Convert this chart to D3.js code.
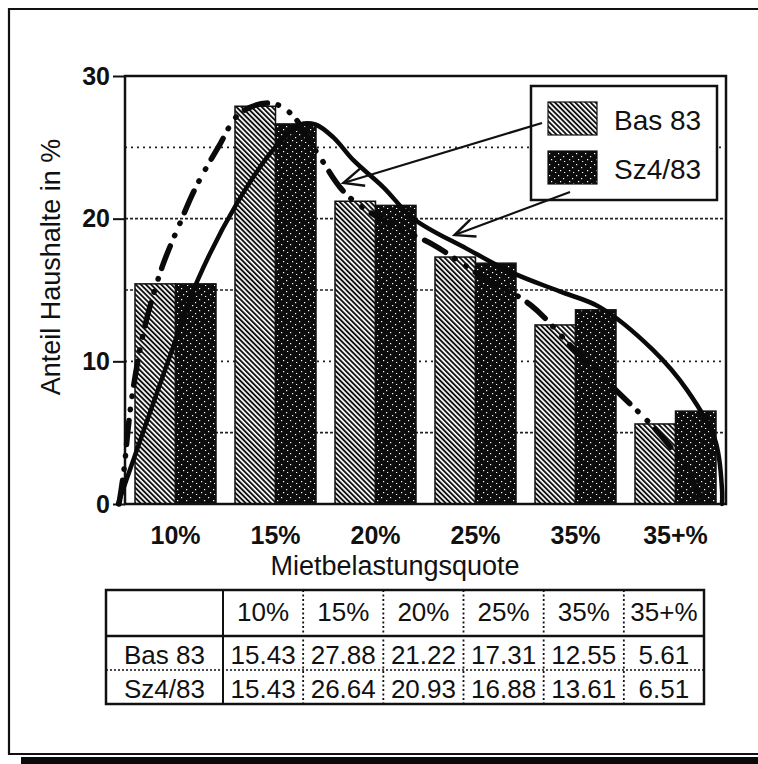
<!DOCTYPE html>
<html>
<head>
<meta charset="utf-8">
<script src="https://cdn.jsdelivr.net/npm/d3@7/dist/d3.min.js"></script>
<style>
  html, body { margin: 0; padding: 0; background: #fff; }
  svg { display: block; font-family: "Liberation Sans", Arial, Helvetica, sans-serif; }
</style>
</head>
<body>
<svg id="chart" width="758" height="764"></svg>
<script>
// Mietbelastungsquote classes and household shares (%)
const categories = ["10%", "15%", "20%", "25%", "35%", "35+%"];
const seriesNames = ["Bas 83", "Sz4/83"];
const bas83 = [15.43, 27.88, 21.22, 17.31, 12.55, 5.61];
const sz483 = [15.43, 26.64, 20.93, 16.88, 13.61, 6.51];
const yTicks = [0, 10, 20, 30];
const gridValues = [5, 10, 15, 20, 25];
const tableValues = [
  ["15.43", "27.88", "21.22", "17.31", "12.55", "5.61"],
  ["15.43", "26.64", "20.93", "16.88", "13.61", "6.51"]
];

// Smoothed distribution curves: [class position, share %]
// (position 0 = centre of the first class, 1 = second, ...)
const bas83Curve = [
  [-0.56, 0], [-0.51, 2.4], [-0.47, 5.2], [-0.42, 8.0], [-0.30, 12.5],
  [-0.13, 16.6], [0.05, 19.7], [0.20, 22.1], [0.43, 25.0], [0.65, 27.4],
  [0.95, 28.1], [1.15, 27.4], [1.42, 24.6], [1.71, 21.7], [2.15, 19.6],
  [2.57, 18.2], [3.04, 16.05], [3.54, 14.0], [3.99, 10.8], [4.42, 7.85],
  [4.80, 5.2], [5.04, 3.1], [5.24, 0.6]
];
const sz483Curve = [
  [-0.57, 0], [-0.03, 10.8], [0.22, 15.6], [0.62, 21.1], [1.0, 25.0],
  [1.25, 26.6], [1.40, 26.6], [1.58, 25.7], [1.78, 24.1], [2.08, 22.2],
  [2.38, 20.0], [2.91, 17.9], [3.37, 16.2], [3.84, 14.9], [4.24, 13.8],
  [4.77, 10.8], [5.11, 8.0], [5.39, 4.5], [5.46, 1.0], [5.46, 0]
];
// arrow tips pointing from the legend onto the curves
const arrowTips = [[1.68, 22.5], [2.79, 18.85]];

const svg = d3.select("#chart");
const plot = { left: 125, right: 726, top: 76, bottom: 504 };

const x = d3.scaleBand().domain(categories)
  .range([plot.left, plot.right]).paddingInner(0.19).paddingOuter(0.1);
const xSeries = d3.scaleBand().domain(seriesNames).range([0, x.bandwidth()]);
const y = d3.scaleLinear().domain([0, 30]).range([plot.bottom, plot.top]);
const step = (plot.right - plot.left) / categories.length;
const xPos = d3.scaleLinear().domain([-0.5, categories.length - 0.5])
  .range([plot.left, plot.right]);

// fill patterns
const defs = svg.append("defs");
const hatch = defs.append("pattern").attr("id", "hatch")
  .attr("patternUnits", "userSpaceOnUse").attr("width", 3.6).attr("height", 3.6)
  .attr("patternTransform", "rotate(-45)");
hatch.append("rect").attr("width", 3.6).attr("height", 3.6).attr("fill", "#fff");
hatch.append("rect").attr("width", 1.9).attr("height", 3.6).attr("fill", "#111");

const speck = defs.append("pattern").attr("id", "speck")
  .attr("patternUnits", "userSpaceOnUse").attr("width", 9).attr("height", 11);
speck.append("rect").attr("width", 9).attr("height", 11).attr("fill", "#0c0c0c");
[[1, 2], [6, 5], [3, 8], [7, 10]].forEach(([px, py]) =>
  speck.append("rect").attr("x", px).attr("y", py).attr("width", 1.2).attr("height", 1.2).attr("fill", "#fff"));

// outer frame
svg.append("path")
  .attr("d", "M760,9 H9 V754 H760")
  .attr("fill", "none").attr("stroke", "#111").attr("stroke-width", 2.2);
svg.append("rect").attr("x", 21).attr("y", 757).attr("width", 740).attr("height", 8).attr("fill", "#0a0a0a");

// grid lines
const gridStyle = { 5: "3,2", 10: "2,4", 15: "3,2", 20: "3,2", 25: "2,4" };
svg.append("g").selectAll("line").data(gridValues).join("line")
  .attr("x1", plot.left).attr("x2", plot.right)
  .attr("y1", d => y(d)).attr("y2", d => y(d))
  .attr("stroke", "#222").attr("stroke-width", 1.6)
  .attr("stroke-dasharray", d => gridStyle[d]);

// bars
const groups = svg.append("g").selectAll("g").data(categories).join("g")
  .attr("transform", d => `translate(${x(d)},0)`);
groups.selectAll("rect")
  .data((d, i) => [{ s: seriesNames[0], v: bas83[i] }, { s: seriesNames[1], v: sz483[i] }])
  .join("rect")
  .attr("x", d => xSeries(d.s))
  .attr("y", d => y(d.v))
  .attr("width", xSeries.bandwidth())
  .attr("height", d => y(0) - y(d.v))
  .attr("fill", d => d.s === seriesNames[0] ? "url(#hatch)" : "url(#speck)")
  .attr("stroke", "#111").attr("stroke-width", 1.5);

// plot frame
svg.append("rect")
  .attr("x", plot.left).attr("y", plot.top)
  .attr("width", plot.right - plot.left).attr("height", plot.bottom - plot.top)
  .attr("fill", "none").attr("stroke", "#111").attr("stroke-width", 2.5);

// y axis
const yAxis = d3.axisLeft(y).tickValues(yTicks).tickSize(12).tickPadding(3);
const yg = svg.append("g").attr("transform", `translate(${plot.left},0)`).call(yAxis);
yg.select(".domain").remove();
yg.selectAll(".tick line").attr("stroke", "#111").attr("stroke-width", 2);
yg.selectAll(".tick text").attr("font-size", 25).attr("font-weight", "bold")
  .attr("fill", "#111").attr("font-family", "Liberation Sans, Arial, sans-serif");

// x axis labels
const xAxis = d3.axisBottom(x).tickSize(0).tickPadding(22);
const xg = svg.append("g").attr("transform", `translate(0,${plot.bottom})`).call(xAxis);
xg.select(".domain").remove();
xg.selectAll(".tick text").attr("font-size", 25).attr("font-weight", "bold")
  .attr("fill", "#111").attr("font-family", "Liberation Sans, Arial, sans-serif");

// axis titles
svg.append("text").attr("x", 395).attr("y", 575).attr("text-anchor", "middle")
  .attr("font-size", 27).attr("fill", "#111").text("Mietbelastungsquote");
svg.append("text").attr("transform", "translate(60,267) rotate(-90)")
  .attr("text-anchor", "middle").attr("font-size", 27).attr("fill", "#111")
  .text("Anteil Haushalte in %");

// fitted curves
const line = d3.line().x(d => xPos(d[0])).y(d => y(d[1])).curve(d3.curveCatmullRom.alpha(0.5));
svg.append("path").datum(sz483Curve).attr("d", line)
  .attr("fill", "none").attr("stroke", "#0a0a0a").attr("stroke-width", 4.5)
  .attr("stroke-linecap", "round");
svg.append("path").datum(bas83Curve).attr("d", line)
  .attr("fill", "none").attr("stroke", "#0a0a0a").attr("stroke-width", 5.5)
  .attr("stroke-linecap", "round").attr("stroke-dasharray", "24,11,0.5,13,0.5,11");

// legend
const lg = svg.append("g");
lg.append("rect").attr("x", 531).attr("y", 86).attr("width", 186).attr("height", 114)
  .attr("fill", "#fff").attr("stroke", "#111").attr("stroke-width", 2.5);
const legendRows = lg.selectAll("g").data(seriesNames).join("g")
  .attr("transform", (d, i) => `translate(548,${102 + i * 49})`);
legendRows.append("rect").attr("width", 49).attr("height", 33)
  .attr("fill", (d, i) => i === 0 ? "url(#hatch)" : "url(#speck)")
  .attr("stroke", "#111").attr("stroke-width", 1.2);
legendRows.append("text").attr("x", 66).attr("y", 28).attr("font-size", 28)
  .attr("fill", "#111").text(d => d);

// arrows from the legend swatches onto the curves
const arrowStarts = [[542, 123], [570, 192]];
arrowStarts.forEach((s, i) => {
  const tx = xPos(arrowTips[i][0]), ty = y(arrowTips[i][1]);
  const ang = Math.atan2(s[1] - ty, s[0] - tx);
  const len = 22, spread = 0.42;
  svg.append("line").attr("x1", s[0]).attr("y1", s[1]).attr("x2", tx).attr("y2", ty)
    .attr("stroke", "#111").attr("stroke-width", 2.2);
  svg.append("path")
    .attr("d", `M${tx + len * Math.cos(ang + spread)},${ty + len * Math.sin(ang + spread)} L${tx},${ty} L${tx + len * Math.cos(ang - spread)},${ty + len * Math.sin(ang - spread)}`)
    .attr("fill", "none").attr("stroke", "#111").attr("stroke-width", 2.4);
});

// data table
const table = { left: 106, right: 704, firstCol: 223, rows: [590, 636, 670, 704] };
const col = d3.scaleBand().domain(categories).range([table.firstCol, table.right]);
const tg = svg.append("g").attr("font-size", 26).attr("fill", "#111");
tg.append("rect").attr("x", table.left).attr("y", table.rows[0])
  .attr("width", table.right - table.left).attr("height", table.rows[3] - table.rows[0])
  .attr("fill", "none").attr("stroke", "#111").attr("stroke-width", 2.5);
tg.append("line").attr("x1", table.firstCol).attr("x2", table.firstCol)
  .attr("y1", table.rows[0]).attr("y2", table.rows[3]).attr("stroke", "#111").attr("stroke-width", 2);
tg.append("line").attr("x1", table.left).attr("x2", table.right)
  .attr("y1", table.rows[1]).attr("y2", table.rows[1]).attr("stroke", "#111").attr("stroke-width", 2.5);
tg.append("line").attr("x1", table.left).attr("x2", table.right)
  .attr("y1", table.rows[2]).attr("y2", table.rows[2]).attr("stroke", "#111")
  .attr("stroke-width", 1.6).attr("stroke-dasharray", "2,2");
tg.selectAll("line.div").data(categories.slice(1)).join("line").attr("class", "div")
  .attr("x1", d => col(d)).attr("x2", d => col(d))
  .attr("y1", table.rows[0]).attr("y2", table.rows[3])
  .attr("stroke", "#111").attr("stroke-width", 1.8).attr("stroke-dasharray", "2,2.5");
tg.selectAll("text.head").data(categories).join("text").attr("class", "head")
  .attr("x", d => col(d) + col.bandwidth() / 2).attr("y", 621)
  .attr("text-anchor", "middle").text(d => d);
seriesNames.forEach((name, r) => {
  const by = [664, 698][r];
  tg.append("text").attr("x", (table.left + table.firstCol) / 2).attr("y", by)
    .attr("text-anchor", "middle").text(name);
  tg.selectAll(`text.v${r}`).data(tableValues[r]).join("text").attr("class", `v${r}`)
    .attr("x", (d, i) => col(categories[i]) + col.bandwidth() / 2).attr("y", by)
    .attr("text-anchor", "middle").text(d => d);
});
</script>
</body>
</html>
